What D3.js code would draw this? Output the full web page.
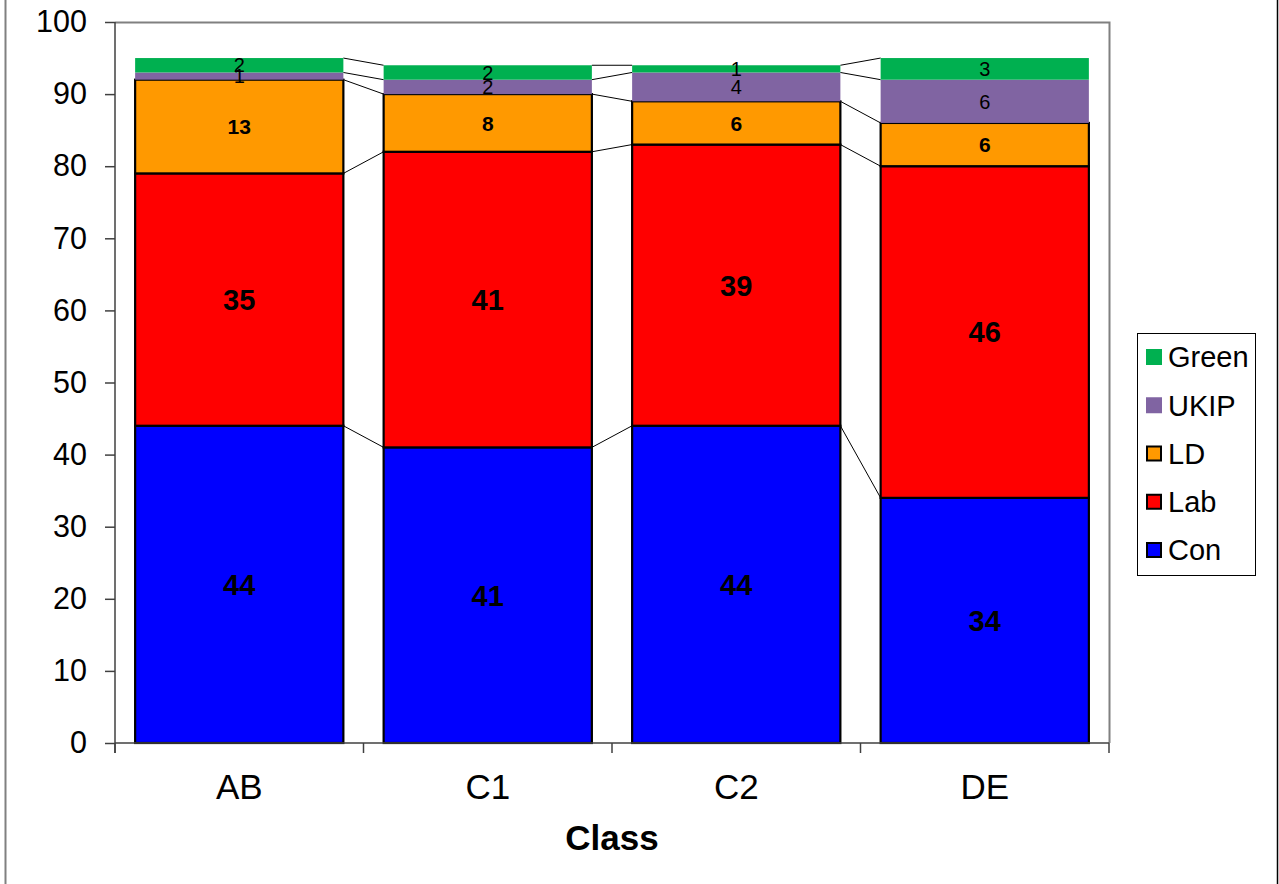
<!DOCTYPE html>
<html>
<head>
<meta charset="utf-8">
<script src="https://cdn.jsdelivr.net/npm/d3@7"></script>
<style>
  html, body { margin: 0; padding: 0; background: #fff; }
  svg { display: block; font-family: "Liberation Sans", Arial, sans-serif; }
</style>
</head>
<body>
<svg id="chart" width="1279" height="884"></svg>
<script>
// Vote share by social class
const categories = ["AB", "C1", "C2", "DE"];
const parties = ["Con", "Lab", "LD", "UKIP", "Green"];
const con   = [44, 41, 44, 34];
const lab   = [35, 41, 39, 46];
const ld    = [13, 8, 6, 6];
const ukip  = [1, 2, 4, 6];
const green = [2, 2, 1, 3];
const yTicks = [0, 10, 20, 30, 40, 50, 60, 70, 80, 90, 100];
const xTitle = "Class";

const colors = { Con: "#0000FF", Lab: "#FF0000", LD: "#FF9900", UKIP: "#8064A2", Green: "#00B050" };
const outlined = { Con: true, Lab: true, LD: true, UKIP: false, Green: false };
const labelStyle = {
  Con:   { size: 29, weight: "bold" },
  Lab:   { size: 29, weight: "bold" },
  LD:    { size: 21, weight: "bold" },
  UKIP:  { size: 20, weight: "normal" },
  Green: { size: 20, weight: "normal" }
};

const rows = categories.map((c, i) => ({
  cat: c, Con: con[i], Lab: lab[i], LD: ld[i], UKIP: ukip[i], Green: green[i]
}));
const stacked = d3.stack().keys(parties)(rows);

const svg = d3.select("#chart");
const plot = { left: 115, right: 1109, top: 22, bottom: 743 };

const x = d3.scaleBand().domain(categories).range([plot.left, plot.right]).padding(0);
const y = d3.scaleLinear().domain([0, 100]).range([plot.bottom, plot.top]);
const barW = x.bandwidth() * 0.838;
const barX = c => x(c) + (x.bandwidth() - barW) / 2;

// outer chart frame
svg.append("line").attr("x1", 5.5).attr("x2", 5.5).attr("y1", 0).attr("y2", 884)
  .attr("stroke", "#808080").attr("stroke-width", 2);
svg.append("line").attr("x1", 1277.5).attr("x2", 1277.5).attr("y1", 0).attr("y2", 884)
  .attr("stroke", "#000").attr("stroke-width", 1.5);

// plot area frame (top and right)
svg.append("path")
  .attr("d", `M${plot.left},${plot.top + 0.5}H${plot.right + 0.5}V${plot.bottom}`)
  .attr("fill", "none").attr("stroke", "#808080").attr("stroke-width", 2);

// series lines between neighbouring bars
const seriesLines = svg.append("g");
stacked.forEach(s => {
  for (let i = 0; i < categories.length - 1; i++) {
    seriesLines.append("line")
      .attr("x1", barX(categories[i]) + barW)
      .attr("y1", y(s[i][1]))
      .attr("x2", barX(categories[i + 1]))
      .attr("y2", y(s[i + 1][1]))
      .attr("stroke", "#000").attr("stroke-width", 1);
  }
});

// bars
const bars = svg.append("g");
stacked.forEach(s => {
  bars.selectAll(null).data(s).enter().append("rect")
    .attr("x", d => barX(d.data.cat))
    .attr("y", d => y(d[1]))
    .attr("width", barW)
    .attr("height", d => y(d[0]) - y(d[1]))
    .attr("fill", colors[s.key])
    .attr("stroke", outlined[s.key] ? "#000" : "none")
    .attr("stroke-width", 2.2);
});

// value labels
const labels = svg.append("g");
stacked.forEach(s => {
  const st = labelStyle[s.key];
  labels.selectAll(null).data(s).enter().append("text")
    .attr("x", d => barX(d.data.cat) + barW / 2)
    .attr("y", d => y((d[0] + d[1]) / 2))
    .attr("dy", "0.36em")
    .attr("text-anchor", "middle")
    .attr("font-size", st.size)
    .attr("font-weight", st.weight)
    .attr("fill", "#000")
    .text(d => d.data[s.key]);
});

// y axis
const yAxis = d3.axisLeft(y).tickValues(yTicks).tickSize(10).tickPadding(18);
const yG = svg.append("g").attr("transform", `translate(${plot.left},0)`).call(yAxis);
yG.select(".domain").attr("stroke", "#404040").attr("stroke-width", 1.5)
  .attr("d", `M0,${plot.top}V${plot.bottom + 10}`);
yG.selectAll(".tick line").attr("stroke", "#404040").attr("stroke-width", 1.5);
yG.selectAll(".tick text").attr("font-size", 30.5).attr("fill", "#000")
  .style("font-family", "'Liberation Sans', Arial, sans-serif");

// x axis: category separators
const xG = svg.append("g");
xG.append("line").attr("x1", plot.left).attr("x2", plot.right).attr("y1", plot.bottom).attr("y2", plot.bottom)
  .attr("stroke", "#404040").attr("stroke-width", 1.5);
const bounds = categories.map(c => x(c)).concat([plot.right]);
xG.selectAll(null).data(bounds).enter().append("line")
  .attr("x1", d => d).attr("x2", d => d)
  .attr("y1", plot.bottom).attr("y2", plot.bottom + 10)
  .attr("stroke", "#404040").attr("stroke-width", 1.5);
xG.selectAll(null).data(categories).enter().append("text")
  .attr("x", d => x(d) + x.bandwidth() / 2)
  .attr("y", 799)
  .attr("text-anchor", "middle")
  .attr("font-size", 35)
  .attr("fill", "#000")
  .text(d => d);

svg.append("text")
  .attr("x", (plot.left + plot.right) / 2)
  .attr("y", 850)
  .attr("text-anchor", "middle")
  .attr("font-size", 35)
  .attr("font-weight", "bold")
  .text(xTitle);

// legend
const legend = svg.append("g");
legend.append("rect").attr("x", 1137.5).attr("y", 333.5).attr("width", 118).attr("height", 242)
  .attr("fill", "#fff").attr("stroke", "#000").attr("stroke-width", 1);
const legendOrder = parties.slice().reverse();
legendOrder.forEach((p, i) => {
  const cy = 357 + i * 48.25;
  legend.append("rect")
    .attr("x", outlined[p] ? 1147 : 1146).attr("y", cy - (outlined[p] ? 7 : 8))
    .attr("width", outlined[p] ? 14 : 16).attr("height", outlined[p] ? 14 : 16)
    .attr("fill", colors[p])
    .attr("stroke", outlined[p] ? "#000" : "none")
    .attr("stroke-width", 2);
  legend.append("text")
    .attr("x", 1168).attr("y", cy).attr("dy", "0.36em")
    .attr("font-size", 29).attr("fill", "#000")
    .text(p);
});
</script>
</body>
</html>
